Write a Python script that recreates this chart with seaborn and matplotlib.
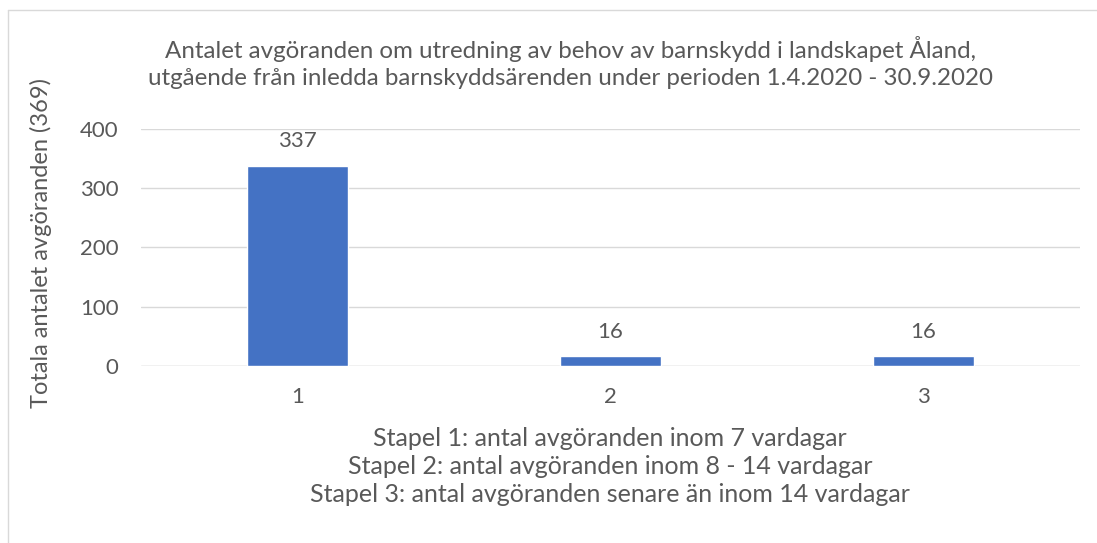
import matplotlib
matplotlib.use("Agg")
import matplotlib.pyplot as plt
import seaborn as sns
import pandas as pd

# data
stapel = ["1", "2", "3"]
antal = [337, 16, 16]
y_ticks = [0, 100, 200, 300, 400]

title = ("Antalet avgöranden om utredning av behov av barnskydd i landskapet Åland,\n"
         "utgående från inledda barnskyddsärenden under perioden 1.4.2020 - 30.9.2020")
x_text = ["Stapel 1: antal avgöranden inom 7 vardagar",
          "Stapel 2: antal avgöranden inom 8 - 14 vardagar",
          "Stapel 3: antal avgöranden senare än inom 14 vardagar"]
y_text = "Totala antalet avgöranden (369)"

sns.set_style("white")
plt.rcParams['font.family'] = ['Lato', 'DejaVu Sans']
txt = "#595959"
grid = "#d9d9d9"

df = pd.DataFrame({"stapel": stapel, "antal": antal})

fig = plt.figure(figsize=(10.97, 5.43), dpi=100)
ax = fig.add_axes([0.1285, 0.326, 0.856, 0.4366])

sns.barplot(data=df, x="stapel", y="antal", color="#4472C4", width=0.32,
            saturation=1, ax=ax, zorder=3)

ax.set_ylim(0, 400)
ax.set_yticks(y_ticks)
ax.set_xlim(-0.5, 2.5)
ax.yaxis.grid(True, color=grid, linewidth=1, zorder=0)
for s in ax.spines.values():
    s.set_visible(False)
ax.axhline(0, color=grid, linewidth=1, zorder=2)
ax.tick_params(axis="both", length=0, labelsize=16, colors=txt)
ax.tick_params(axis="y", pad=16)
ax.tick_params(axis="x", pad=15)

for i, v in enumerate(antal):
    ax.text(i, v + 25, str(v), ha="center", va="bottom", fontsize=16, color=txt)

ax.set_xlabel("")
ax.set_ylabel(y_text, fontsize=17, color=txt)
ax.yaxis.set_label_coords(-0.095, 0.52)

fig.text(0.5196, 0.885, title, ha="center", va="center", fontsize=17.4,
         color=txt, linespacing=1.32)
for k, line in enumerate(x_text):
    fig.text(0.556, 1 - (438 + 28 * k) / 543, line, ha="center", va="center",
             fontsize=18, color=txt)

# chart frame (top and left edges visible)
fig.add_artist(plt.Line2D([8 / 1097, 8 / 1097], [0, 1 - 10 / 543], color=grid,
                          linewidth=1, transform=fig.transFigure))
fig.add_artist(plt.Line2D([8 / 1097, 1], [1 - 10 / 543, 1 - 10 / 543], color=grid,
                          linewidth=1, transform=fig.transFigure))

fig.savefig("out.png", dpi=100)
